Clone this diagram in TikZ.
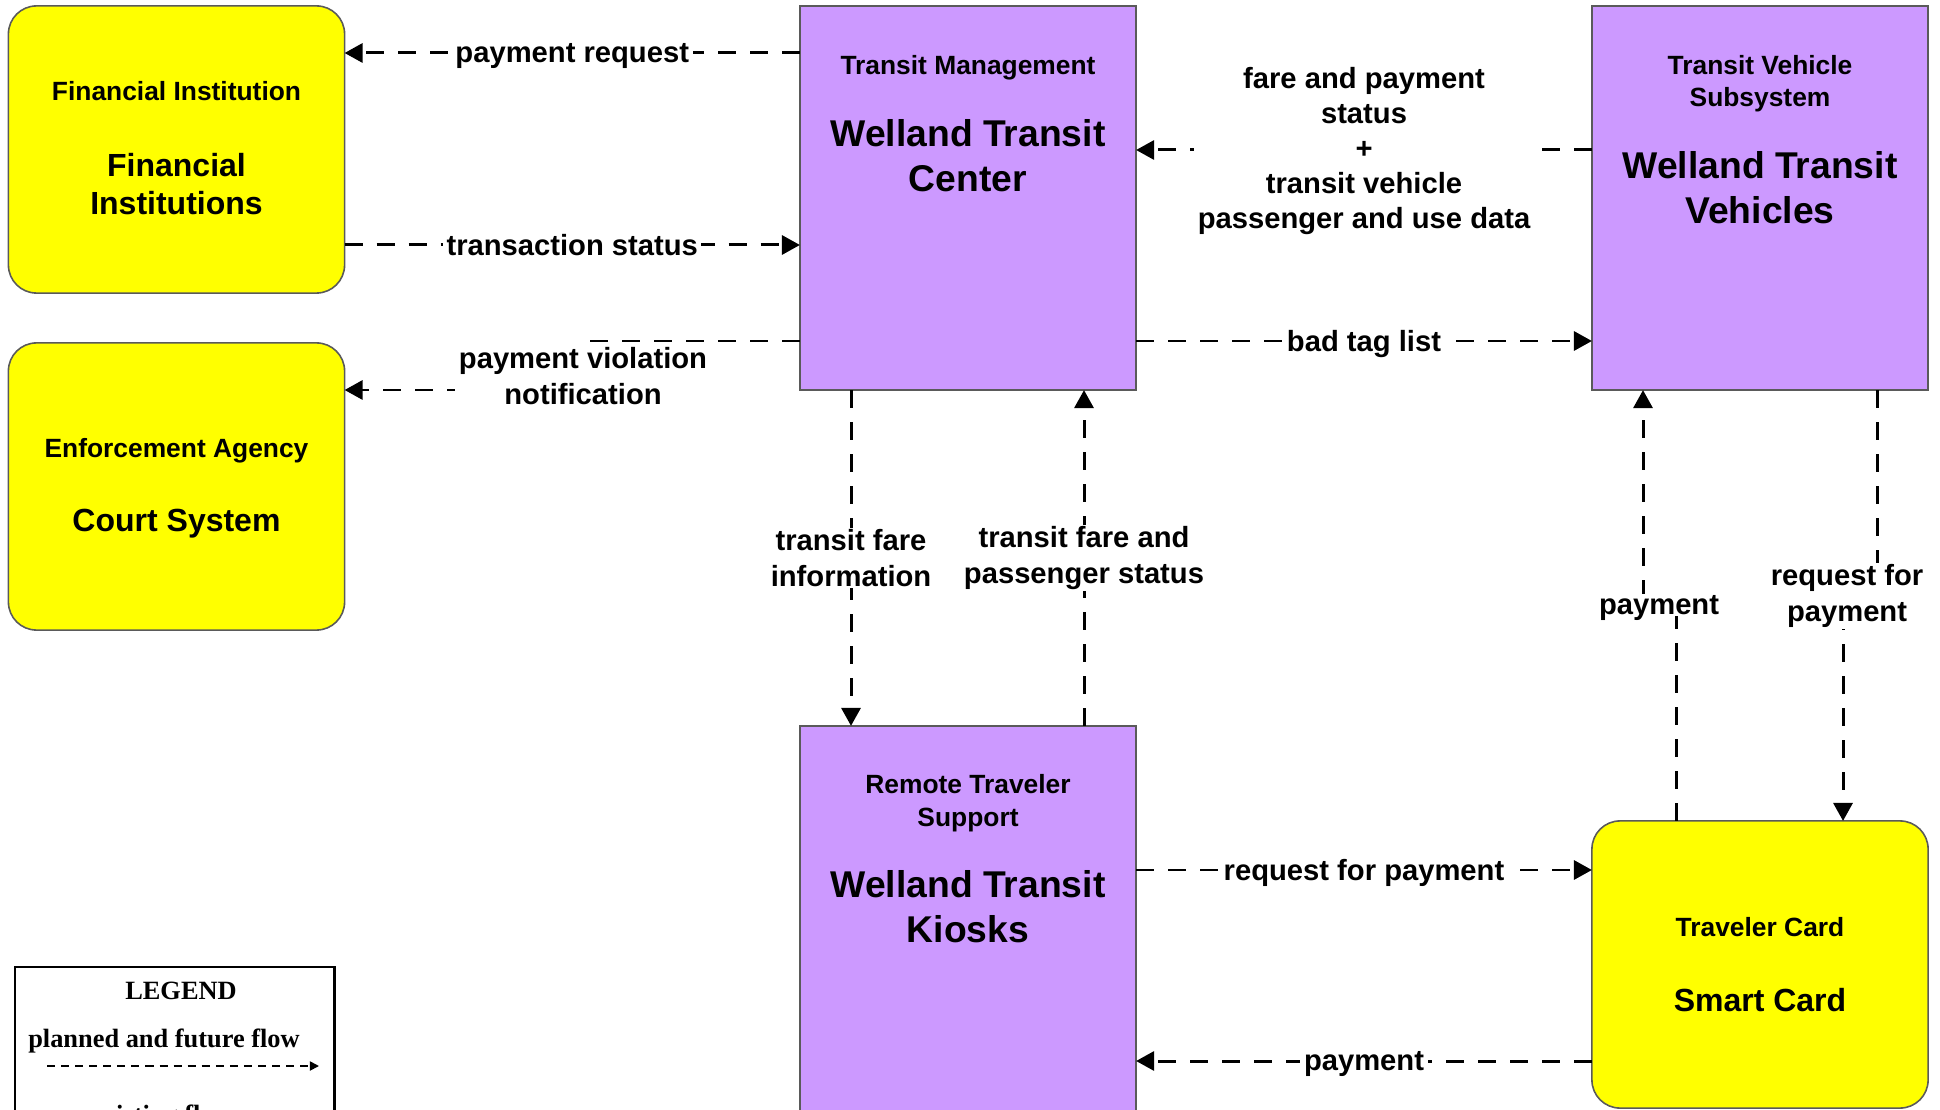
\documentclass[tikz,border=0pt]{standalone}
\usepackage{fontspec}
\setmainfont{Liberation Sans}
\newfontfamily\legendfont{Liberation Serif}
\usetikzlibrary{arrows.meta}

\definecolor{subsys}{HTML}{CC99FF}
\definecolor{terminator}{HTML}{FFFF00}
\definecolor{boxline}{HTML}{5A5A5A}

\begin{document}
\begin{tikzpicture}[x=0.01cm,y=-0.01cm,
    box/.style={draw=boxline,line width=0.45pt,outer sep=0pt,minimum width=3.36cm},
    subsystem/.style={box,fill=subsys},
    terminal/.style={box,fill=terminator,rounded corners=8pt,minimum height=2.87cm},
    hdr/.style={align=center,font=\bfseries\fontsize{7.5}{9.2}\selectfont},
    ttl/.style={align=center,font=\bfseries\fontsize{10.6}{12.7}\selectfont},
    ttlsmall/.style={align=center,font=\bfseries\fontsize{9.1}{10.9}\selectfont},
    lbl/.style={fill=white,align=center,inner xsep=1pt,inner ysep=0.5pt,font=\bfseries\fontsize{8.3}{10}\selectfont},
    lblone/.style={lbl,text depth=0pt},
    flow/.style={draw,line width=0.85pt,dash pattern=on 5.1pt off 4pt,-{Triangle[length=5.1pt,width=5.4pt]}},
    legtxt/.style={font=\legendfont\bfseries\fontsize{7.5}{9}\selectfont},
    legflow/.style={draw,line width=0.5pt,dash pattern=on 2.3pt off 1.7pt,-{Triangle[length=2.6pt,width=2.6pt]}}]

  \useasboundingbox (0,0) rectangle (1940,1110);

  % boxes
  \node[terminal] (fin) at (176.5,149.5) {};
  \node[terminal] (enf) at (176.5,486.5) {};
  \node[subsystem,minimum height=3.84cm] (tmc) at (968,198) {};
  \node[subsystem,minimum height=3.84cm] (veh) at (1760,198) {};
  \node[subsystem,minimum height=4.2cm] (kio) at (968,936) {};
  \node[terminal] (card) at (1760,964.5) {};

  % box texts
  \node[hdr] (fin-h) at (176.5,91) {Financial Institution};
  \node[ttlsmall] (fin-n) at (176.5,184) {Financial\\Institutions};
  \node[hdr] (enf-h) at (176.5,451) {Enforcement Agency};
  \node[ttlsmall] (enf-n) at (176.5,524) {Court System};
  \node[hdr] (tmc-h) at (968,68) {Transit Management};
  \node[ttl] (tmc-n) at (968,156) {Welland Transit\\Center};
  \node[hdr] (veh-h) at (1760,84) {Transit Vehicle\\Subsystem};
  \node[ttl] (veh-n) at (1760,188) {Welland Transit\\Vehicles};
  \node[hdr] (kio-h) at (968,803) {Remote Traveler\\Support};
  \node[ttl] (kio-n) at (968,907) {Welland Transit\\Kiosks};
  \node[hdr] (card-h) at (1760,927) {Traveler Card};
  \node[ttlsmall] (card-n) at (1760,1000) {Smart Card};

  % flows
  \draw[flow] (tmc.west |- 0,53) -- node[lblone] (l-preq) {payment request} (fin.east |- 0,53);
  \draw[flow] (fin.east |- 0,245) -- node[lblone] (l-tstat) {transaction status} (tmc.west |- 0,245);
  \draw[flow] (tmc.west |- 0,341) -- (588,341) -- (588,390) -- (enf.east |- 0,390);
  \node[lbl] (l-pviol) at (583,376) {payment violation\\notification};
  \draw[flow] (veh.west |- 0,150) -- node[lbl,yshift=-0.3pt] (l-fare) {fare and payment\\status\\+\\transit vehicle\\passenger and use data} (tmc.east |- 0,150);
  \draw[flow] (tmc.east |- 0,341) -- node[lblone] (l-badtag) {bad tag list} (veh.west |- 0,341);
  \draw[flow] (tmc.south -| 851,0) -- node[lbl] (l-tfi) {transit fare\\information} (kio.north -| 851,0);
  \draw[flow] (kio.north -| 1084,0) -- node[lbl] (l-tfps) {transit fare and\\passenger status} (tmc.south -| 1084,0);
  \draw[flow] (card.north -| 1676,0) -- (1676,605) -- (1643,605) -- (veh.south -| 1643,0);
  \node[lblone] (l-vpay) at (1659,605) {payment};
  \draw[flow] (veh.south -| 1877,0) -- (1877,597) -- (1843,597) -- (card.north -| 1843,0);
  \node[lbl] (l-vreq) at (1847,596) {request for\\payment};
  \draw[flow] (kio.east |- 0,870) -- node[lblone] (l-kreq) {request for payment} (card.west |- 0,870);
  \draw[flow] (card.west |- 0,1061) -- node[lblone] (l-kpay) {payment} (kio.east |- 0,1061);

  % legend
  \node[draw,line width=0.75pt,minimum width=3.19cm,minimum height=2cm,anchor=north west,outer sep=0pt] (legend) at (15,967) {};
  \node[legtxt] (leg-t) at (181,991) {LEGEND};
  \node[legtxt] (leg-p) at (164,1041) {planned and future flow};
  \coordinate (lg-a) at (47,1066);
  \coordinate (lg-b) at (319,1066);
  \draw[legflow] (lg-a) -- (lg-b);
  \node[legtxt] (leg-e) at (162,1117) {existing flow};

\end{tikzpicture}
\end{document}
